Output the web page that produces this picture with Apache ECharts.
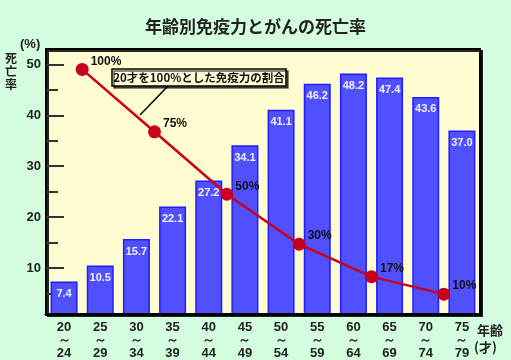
<!DOCTYPE html>
<html><head><meta charset="utf-8">
<script src="https://cdn.jsdelivr.net/npm/echarts@6/dist/echarts.min.js"></script>
<style>html,body{margin:0;padding:0;background:#d4fde0;}#c{width:511px;height:360px;}</style>
</head><body><div id="c"></div>
<script>
const categories = ['20\n～\n24','25\n～\n29','30\n～\n34','35\n～\n39','40\n～\n44','45\n～\n49','50\n～\n54','55\n～\n59','60\n～\n64','65\n～\n69','70\n～\n74','75\n～\n79'];
const deathRate = [7.4, 10.5, 15.7, 22.1, 27.2, 34.1, 41.1, 46.2, 48.2, 47.4, 43.6, 37.0];
const immunityAges = [25, 35, 45, 55, 65, 75];
const immunityPct = [100, 75, 50, 30, 17, 10];
const majorTicks = [10, 20, 30, 40, 50];
const minorTicks = [5, 15, 25, 35, 45];

const chart = echarts.init(document.getElementById('c'), null, {renderer: 'canvas'});
const FONT = '"Noto Sans CJK JP", "Noto Sans", sans-serif';
const NUM = '"Liberation Sans", Arial, sans-serif';
const NARROW = '"Liberation Sans Narrow", "Liberation Sans", sans-serif';
const yMin = 1, yMax = 53, ratio = 0.49;

chart.setOption({
  backgroundColor: '#d4fde0',
  animation: false,
  title: {
    text: '年齢別免疫力とがんの死亡率', left: 'center', top: 13,
    textStyle: {fontFamily: FONT, fontSize: 17, fontWeight: 'bold', color: '#222'}
  },
  grid: {
    left: 46, top: 49, right: 31, bottom: 45, show: true, z: 0,
    backgroundColor: '#fffcd2', borderColor: '#000', borderWidth: 2,
    shadowColor: 'rgba(0,0,0,0.85)', shadowBlur: 0, shadowOffsetX: 2, shadowOffsetY: 2
  },
  xAxis: [
    {
      type: 'category', data: categories, z: 5,
      axisLine: {lineStyle: {color: '#000', width: 3}},
      axisTick: {inside: true, length: 4, lineStyle: {color: '#888', width: 1}},
      axisLabel: {fontFamily: NUM, fontSize: 13, fontWeight: 'bold', color: '#222', lineHeight: 13, margin: 7}
    },
    {type: 'value', min: 20, max: 80, show: false}
  ],
  yAxis: [
    {
      type: 'value', min: yMin, max: yMax, z: 1, position: 'left',
      axisLine: {show: false},
      splitLine: {show: false},
      axisTick: {show: true, inside: true, length: 18, customValues: majorTicks, lineStyle: {color: '#333', width: 2}},
      axisLabel: {customValues: majorTicks, fontFamily: NUM, fontSize: 13, fontWeight: 'bold', color: '#222', margin: 5}
    },
    {
      type: 'value', min: yMin, max: yMax, z: 1, position: 'left', offset: 0,
      axisLine: {show: false}, splitLine: {show: false},
      axisTick: {show: true, inside: true, length: 12, customValues: minorTicks, lineStyle: {color: '#333', width: 2}},
      axisLabel: {show: false}
    },
    {type: 'value', min: yMin / ratio, max: yMax / ratio, show: false}
  ],
  series: [
    {
      type: 'bar', data: deathRate, xAxisIndex: 0, yAxisIndex: 0, barWidth: 27, z: 2,
      itemStyle: {color: '#5050ff', borderColor: '#1e1eff', borderWidth: 1.5},
      label: {
        show: true, position: 'insideTop', distance: 7,
        formatter: p => p.value.toFixed(1),
        fontFamily: NUM, fontSize: 11, fontWeight: 'bold', color: '#f4f0ff'
      }
    },
    {
      type: 'line', xAxisIndex: 1, yAxisIndex: 2, z: 6,
      data: immunityAges.map((a, i) => [a, immunityPct[i]]),
      lineStyle: {color: '#c8001e', width: 2.5},
      symbol: 'circle', symbolSize: 13,
      itemStyle: {color: '#c8001e'},
      label: {
        show: true, position: 'right', distance: 2, offset: [0, -8],
        formatter: p => p.value[1] + '%',
        fontFamily: NARROW, fontSize: 12, fontWeight: 'bold', color: '#111'
      }
    }
  ],
  graphic: [
    {type: 'text', left: 20, top: 38, style: {text: '(%)', font: 'bold 13px ' + NUM, fill: '#222'}},
    {type: 'text', left: 5, top: 52, style: {text: '死\n亡\n率', font: 'bold 12px ' + FONT, fill: '#222', lineHeight: 13}},
    {type: 'text', left: 477, top: 324, style: {text: '年齢', font: 'bold 13px ' + FONT, fill: '#222'}},
    {type: 'text', left: 474, top: 341, style: {text: '(才)', font: 'bold 13px ' + FONT, fill: '#222'}},
    {type: 'line', shape: {x1: 168, y1: 86, x2: 140, y2: 115}, style: {stroke: '#000', lineWidth: 1.5}, z: 10},
    {type: 'rect', shape: {x: 112, y: 69, width: 174, height: 17}, z: 10,
      style: {fill: '#fffcd8', stroke: '#000', lineWidth: 1.5, shadowColor: 'rgba(0,0,0,0.6)', shadowOffsetX: 2, shadowOffsetY: 2}},
    {type: 'text', x: 199, y: 78, z: 11,
      style: {text: '20才を100%とした免疫力の割合', font: 'bold 11.5px ' + FONT, fill: '#111', align: 'center', verticalAlign: 'middle'}}
  ]
});
</script></body></html>
